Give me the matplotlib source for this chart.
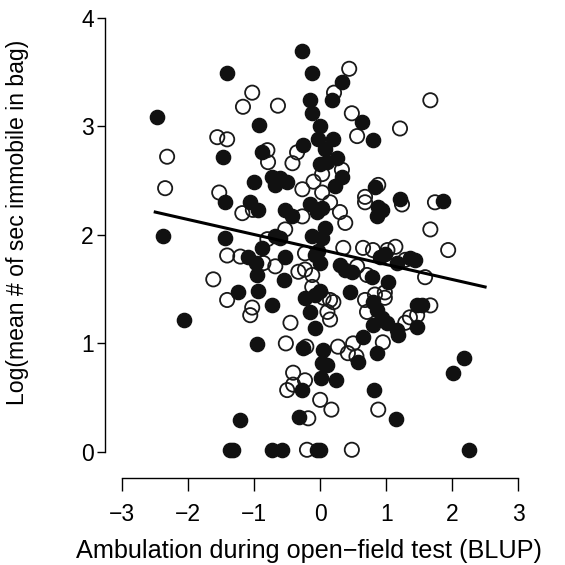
import numpy as np
import matplotlib
matplotlib.use( "Agg" )
import matplotlib.pyplot as plt

# Filled circles.

filled_x = [ -2.48, -1.41, -1.48, -2.38, -1.44, -2.06, -1.44, -1.36, -0.95, -0.26,
             0.03, -0.27, -1.21, -0.32, -1.32, -0.73, -0.58, -0.05, 0.65, 0.58,
             1.18, 0.86, 0.24, 0.82, 1.15, 0.00, 0.05, 0.10, 0.02, 2.18,
             2.02, 2.26, 1.86, 1.44, 1.55, 0.33, 0.18, 0.63, 0.80, 0.00,
             0.20, 0.08, 0.26, 0.11, 0.33, 0.23, 0.83, 1.21, -0.27, -0.12,
             -0.15, -0.12, -0.92, -0.88, -0.26, -0.73, -0.61, -0.50, -0.68, -1.00,
             -0.03, 0.00, -1.06, -0.94, -0.53, -0.42, -0.15, -0.05, -0.68, -0.61,
             -0.88, -1.09, -0.98, -0.53, -0.95, -0.08, -0.12, -0.03, 0.00, -0.55,
             -1.24, -0.94, -0.23, -0.08, -0.73, -0.15, -0.08, 0.03, 0.88, 0.94,
             0.86, 0.08, 0.03, 0.91, 0.98, 1.17, 1.36, 0.30, 0.38, 0.48,
             0.79, 1.03, 0.45, 0.00, 0.80, 0.86, 1.47, 0.94, 1.02, 1.47,
             0.80, 1.17 ]
filled_y = [ 3.09, 3.49, 2.72, 1.99, 1.97, 1.22, 2.30, 0.02, 0.99, 0.96,
             0.82, 0.57, 0.29, 0.32, 0.02, 0.02, 0.02, 0.02, 1.06, 0.83,
             1.08, 0.91, 0.66, 0.57, 0.30, 0.02, 0.94, 0.80, 0.68, 0.87,
             0.73, 0.02, 2.31, 1.77, 1.35, 3.41, 3.24, 3.04, 2.87, 3.00,
             2.88, 2.79, 2.71, 2.67, 2.53, 2.45, 2.44, 2.33, 3.69, 3.49,
             3.24, 3.12, 3.01, 2.76, 2.83, 2.53, 2.52, 2.49, 2.46, 2.49,
             2.88, 2.65, 2.30, 2.23, 2.23, 2.17, 2.28, 2.21, 1.99, 1.97,
             1.88, 1.80, 1.74, 1.80, 1.63, 1.81, 1.99, 1.85, 1.74, 1.58,
             1.47, 1.48, 1.42, 1.45, 1.35, 1.29, 1.14, 2.25, 2.26, 2.23,
             2.17, 2.06, 1.97, 1.80, 1.82, 1.74, 1.79, 1.72, 1.68, 1.66,
             1.61, 1.57, 1.47, 1.48, 1.38, 1.31, 1.35, 1.23, 1.19, 1.15,
             1.17, 1.12 ]

# Open circles.

open_x = [ -1.56, -1.41, -2.32, -2.35, -1.53, -1.41, -1.62, -1.41, -0.52, -0.21,
           -0.41, -0.23, -0.50, -0.41, 0.00, -0.18, -0.20, 0.27, 0.50, 0.42,
           0.55, 0.95, 0.88, 0.17, 0.48, 1.67, 1.74, 1.67, 1.94, 1.59,
           1.67, 1.47, 0.44, 0.21, 0.48, 0.56, 1.21, 0.33, 0.03, 0.88,
           0.68, -1.03, -1.17, -0.64, -0.80, -0.79, -0.35, -0.42, -0.27, -0.10,
           0.03, -1.18, -1.02, -0.27, -0.53, -0.80, -1.21, -0.86, -0.68, -0.23,
           -0.33, -0.23, -0.12, -0.12, -1.03, -1.06, -0.45, 0.15, 0.30, 0.68,
           1.24, 0.38, 0.35, 0.65, 0.80, 1.02, 1.14, 1.29, 0.56, 0.71,
           0.05, 0.15, 0.20, 0.68, 0.83, 0.98, 0.98, 0.71, 0.11, 0.15,
           1.36, 1.29 ]
open_y = [ 2.90, 2.88, 2.72, 2.43, 2.39, 1.81, 1.59, 1.40, 1.00, 0.97,
           0.73, 0.66, 0.57, 0.62, 0.48, 0.31, 0.02, 0.97, 1.00, 0.91,
           0.88, 1.01, 0.39, 0.39, 0.02, 3.24, 2.30, 2.05, 1.86, 1.61,
           1.35, 1.26, 3.53, 3.31, 3.12, 2.91, 2.98, 2.60, 2.56, 2.46,
           2.35, 3.31, 3.18, 3.19, 2.78, 2.67, 2.76, 2.66, 2.42, 2.49,
           2.39, 2.20, 2.23, 2.17, 2.05, 1.96, 1.80, 1.74, 1.71, 1.83,
           1.66, 1.68, 1.63, 1.52, 1.33, 1.26, 1.19, 2.30, 2.21, 2.30,
           2.28, 2.11, 1.88, 1.88, 1.86, 1.86, 1.89, 1.77, 1.71, 1.63,
           1.42, 1.40, 1.38, 1.40, 1.45, 1.47, 1.42, 1.29, 1.29, 1.22,
           1.24, 1.19 ]

# Regression line.

fit_intercept = 1.865
fit_slope = -0.138
fit_range = [ -2.5, 2.5 ]

x_ticks = [ -3, -2, -1, 0, 1, 2, 3 ]
y_ticks = [ 0, 1, 2, 3, 4 ]

plt.rcParams[ "font.family" ] = [ "Liberation Sans", "DejaVu Sans" ]

fig = plt.figure( figsize = ( 5.65, 5.65 ), dpi = 100 )
ax = fig.add_axes( [ 0.186, 0.154, 0.752, 0.828 ] )

ax.scatter( open_x, open_y, s = 105, facecolors = "none", edgecolors = "#1a1a1a", linewidths = 1.3, zorder = 2 )
ax.scatter( filled_x, filled_y, s = 105, facecolors = "#111111", edgecolors = "#111111", linewidths = 1.0, zorder = 3 )

line_x = np.array( fit_range )
ax.plot( line_x, fit_intercept + fit_slope * line_x, color = "black", linewidth = 2.2, zorder = 4 )

# R-style detached axes.

ax.set_xlim( -3.26, 3.18 )
ax.set_ylim( -0.24, 4.07 )
for side in [ "top", "right" ]:
    ax.spines[ side ].set_visible( False )
ax.spines[ "left" ].set_bounds( 0, 4 )
ax.spines[ "bottom" ].set_bounds( -3, 3 )
ax.spines[ "left" ].set_linewidth( 1.0 )
ax.spines[ "bottom" ].set_linewidth( 1.0 )

ax.set_xticks( x_ticks )
ax.set_yticks( y_ticks )
ax.set_xticklabels( [ str( t ).replace( "-", "\u2212" ) for t in x_ticks ] )
ax.tick_params( axis = "x", direction = "out", length = 9, width = 1.0, labelsize = 16.5, pad = 9 )
ax.tick_params( axis = "y", direction = "out", length = 6, width = 1.0, labelsize = 16.5, pad = 2 )

ax.set_xlabel( "Ambulation during open\u2212field test (BLUP)", fontsize = 18.2 )
ax.set_ylabel( "Log(mean # of sec immobile in bag)", fontsize = 16.6 )
ax.xaxis.set_label_coords( 0.48, -0.13 )
ax.yaxis.set_label_coords( -0.178, 0.547 )

fig.savefig( "out.png", dpi = 100 )
